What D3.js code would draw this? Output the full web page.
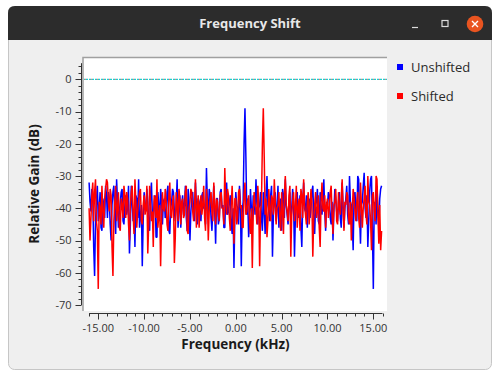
<!DOCTYPE html>
<html lang="en">
<head>
<meta charset="utf-8">
<title>Frequency Shift</title>
<script src="https://d3js.org/d3.v7.min.js"></script>
<style>
  html, body { margin: 0; padding: 0; background: #ffffff; }
  svg { display: block; font-family: "Open Sans", "DejaVu Sans", sans-serif; }
</style>
</head>
<body>
<script>
// FFT bins: -16 .. 15.9 kHz, 0.1 kHz apart
var freqStart = -16, freqStep = 0.1;

// Unshifted spectrum (dB), one row = 2 kHz
var unshifted = [
  -32, -38, -41, -34, -36, -52, -61, -44, -38, -33, -44, -40, -35, -46, -47, -37, -39, -43, -33, -36,
  -43, -35, -37, -45, -50, -39, -35, -33, -42, -48, -31, -38, -46, -41, -38, -35, -34, -44, -45, -39,
  -36, -42, -40, -33, -54, -45, -33, -38, -44, -41, -52, -36, -37, -43, -31, -46, -42, -39, -58, -44,
  -35, -40, -41, -34, -38, -45, -47, -36, -32, -42, -43, -38, -36, -49, -49, -35, -39, -44, -34, -37,
  -45, -38, -37, -43, -42, -35, -33, -47, -48, -40, -38, -34, -35, -41, -44, -39, -31, -46, -40, -36,
  -46, -39, -36, -42, -39, -33, -43, -47, -34, -38, -50, -41, -37, -35, -41, -44, -32, -39, -45, -37,
  -38, -42, -44, -36, -35, -40, -40, -45, -27.5, -38, -42, -34, -36, -43, -47, -39, -33, -41, -51, -37,
  -37, -45, -43, -35, -34, -40, -39, -46, -46, -36, -32, -42, -41, -38, -36, -44, -48, -40, -58.5, -42,
  -35, -39, -40, -45, -33, -38, -58, -41, -38, -20, -9, -24, -42, -37, -49, -44, -34, -40, -44, -36,
  -37, -42, -31, -38, -45, -40, -39, -35, -43, -47, -35, -41, -48, -36, -30, -39, -41, -44, -36, -33,
  -55, -42, -38, -35, -44, -40, -33, -46, -40, -37, -47, -34, -36, -43, -31, -39, -42, -45, -38, -35,
  -45, -40, -34, -38, -55, -43, -39, -35, -43, -41, -36, -46, -52, -38, -32, -40, -41, -36, -46, -39,
  -37, -43, -40, -35, -33, -42, -48, -39, -38, -34, -44, -45, -35, -40, -42, -37, -31, -41, -47, -38,
  -39, -35, -36, -43, -45, -38, -50, -41, -34, -37, -41, -44, -38, -35, -43, -46, -32, -39, -46, -40,
  -37, -33, -42, -45, -30, -38, -39, -44, -53, -36, -35, -41, -44, -30, -31, -42, -51, -39, -38, -33,
  -29, -40, -43, -36, -52, -44, -35, -31, -30, -47, -65, -38, -40, -45, -33, -41, -46, -37, -34, -33
];

// Shifted spectrum (dB), tone moved from 1 kHz to 3 kHz
var shifted = [
  -40, -50, -43, -36, -32, -44, -35, -31, -44, -47, -65, -38, -40, -45, -33, -41, -46, -37, -34, -31,
  -32, -38, -41, -34, -36, -52, -61, -44, -38, -33, -44, -40, -35, -46, -47, -37, -39, -43, -33, -36,
  -43, -35, -37, -45, -50, -39, -35, -33, -42, -48, -31, -38, -46, -41, -38, -35, -34, -44, -45, -39,
  -36, -42, -40, -33, -54, -45, -33, -38, -44, -41, -52, -36, -37, -43, -31, -46, -42, -39, -58, -44,
  -35, -40, -41, -34, -38, -45, -47, -36, -32, -42, -43, -38, -36, -57, -49, -35, -39, -44, -34, -37,
  -45, -38, -37, -43, -42, -35, -33, -47, -48, -40, -38, -34, -35, -41, -44, -39, -31, -46, -40, -36,
  -46, -39, -36, -42, -39, -33, -43, -47, -34, -38, -50, -41, -37, -35, -41, -44, -32, -39, -45, -37,
  -38, -42, -44, -36, -35, -40, -40, -45, -27.5, -38, -42, -34, -36, -43, -47, -39, -33, -41, -51, -37,
  -37, -45, -43, -35, -34, -40, -39, -46, -46, -36, -32, -42, -41, -38, -36, -44, -48, -40, -58.5, -42,
  -35, -39, -40, -45, -33, -38, -58, -41, -38, -20, -9, -24, -42, -37, -49, -44, -34, -40, -44, -36,
  -37, -42, -31, -38, -45, -40, -39, -35, -43, -47, -35, -41, -48, -36, -30, -39, -41, -44, -36, -33,
  -55, -42, -38, -35, -44, -40, -33, -46, -40, -37, -47, -34, -36, -43, -31, -39, -42, -45, -38, -35,
  -45, -40, -34, -38, -55, -43, -39, -35, -43, -41, -36, -46, -52, -38, -32, -40, -41, -36, -46, -39,
  -37, -43, -40, -35, -33, -42, -48, -39, -38, -34, -44, -45, -35, -40, -42, -37, -31, -41, -47, -38,
  -39, -35, -36, -43, -45, -38, -50, -41, -34, -37, -41, -44, -38, -35, -43, -46, -32, -39, -46, -40,
  -37, -33, -42, -45, -30, -38, -39, -44, -53, -36, -35, -41, -44, -30, -31, -42, -51, -39, -53, -47
];

var xTicks = [-15, -10, -5, 0, 5, 10, 15];
var yTicks = [0, -10, -20, -30, -40, -50, -60, -70];
var seriesNames = ["Unshifted", "Shifted"];
var seriesColors = ["#0000ff", "#ff0000"];

var W = 500, H = 379;
var svg = d3.select("body").append("svg").attr("width", W).attr("height", H);

// window frame
svg.append("rect").attr("x", 8.5).attr("y", 6.5).attr("width", 483).attr("height", 363)
  .attr("rx", 6).attr("fill", "#efefef").attr("stroke", "#c6c6c6");
svg.append("path")
  .attr("d", "M8,40 V13 Q8,6 15,6 H485 Q492,6 492,13 V40 Z")
  .attr("fill", "#2c2c2c");
svg.append("text").attr("x", 250).attr("y", 28).attr("text-anchor", "middle")
  .attr("font-size", 13).attr("font-weight", "bold").attr("fill", "#e8e8e8")
  .text("Frequency Shift");
svg.append("line").attr("x1", 412).attr("x2", 418).attr("y1", 27.5).attr("y2", 27.5)
  .attr("stroke", "#dcdcdc").attr("stroke-width", 1.2);
svg.append("rect").attr("x", 442).attr("y", 20.5).attr("width", 6).attr("height", 6)
  .attr("fill", "none").attr("stroke", "#dcdcdc").attr("stroke-width", 1.2);
svg.append("circle").attr("cx", 475).attr("cy", 24).attr("r", 8.3).attr("fill", "#e95420");
svg.append("path").attr("d", "M472,21 L478,27 M478,21 L472,27")
  .attr("stroke", "#ffffff").attr("stroke-width", 1.4);

// plot canvas
var cL = 83, cR = 387, cT = 57, cB = 311;
svg.append("rect").attr("x", cL).attr("y", cT).attr("width", cR - cL).attr("height", cB - cT)
  .attr("fill", "#ffffff");
svg.append("path").attr("d", "M" + cL + "," + cB + " V" + (cT + 0.5) + " H" + cR)
  .attr("fill", "none").attr("stroke", "#a0a0a0").attr("stroke-width", 1.5);

var x = d3.scaleLinear().domain([-16, 16]).range([89.1, 382.5]);
var y = d3.scaleLinear().domain([0, -70]).range([79.3, 305]);

svg.append("clipPath").attr("id", "clip")
  .append("rect").attr("x", cL + 1).attr("y", cT + 1).attr("width", cR - cL - 1).attr("height", cB - cT - 1);

var plot = svg.append("g").attr("clip-path", "url(#clip)");

// dotted reference line at 0 dB
plot.append("line").attr("x1", cL).attr("x2", cR).attr("y1", y(0)).attr("y2", y(0))
  .attr("stroke", "#22cccc").attr("stroke-width", 1.3).attr("stroke-dasharray", "2 1");
plot.append("line").attr("x1", cL + 2).attr("x2", cR).attr("y1", y(0)).attr("y2", y(0))
  .attr("stroke", "#d06060").attr("stroke-width", 1).attr("stroke-dasharray", "1 5");

var line = d3.line()
  .x(function(d, i) { return x(freqStart + i * freqStep); })
  .y(function(d) { return y(d); });

[unshifted, shifted].forEach(function(s, k) {
  plot.append("path").datum(s)
    .attr("d", line)
    .attr("fill", "none")
    .attr("stroke", seriesColors[k])
    .attr("stroke-width", 1.5)
    .attr("stroke-linejoin", "bevel");
});

// y axis
var yAxisX = 81.5;
var gy = svg.append("g").attr("font-size", 11).attr("fill", "#333");
gy.append("line").attr("x1", yAxisX).attr("x2", yAxisX).attr("y1", y(5)).attr("y2", y(-70))
  .attr("stroke", "#333");
d3.range(4, -71, -2).forEach(function(v) {
  var major = v % 10 === 0;
  gy.append("line").attr("x1", yAxisX - (major ? 6 : 3)).attr("x2", yAxisX)
    .attr("y1", Math.round(y(v)) + 0.5).attr("y2", Math.round(y(v)) + 0.5).attr("stroke", "#333");
});
gy.selectAll("text.yt").data(yTicks).enter().append("text")
  .attr("x", yAxisX - 10).attr("y", function(d) { return y(d); }).attr("dy", "0.35em")
  .attr("text-anchor", "end").text(function(d) { return d; });

// x axis
var xAxisY = 313.5;
var gx = svg.append("g").attr("font-size", 11).attr("fill", "#333");
gx.append("line").attr("x1", x(-16)).attr("x2", x(16)).attr("y1", xAxisY).attr("y2", xAxisY)
  .attr("stroke", "#333");
d3.range(-16, 17, 1).forEach(function(v) {
  var major = v % 5 === 0;
  gx.append("line").attr("x1", Math.round(x(v)) + 0.5).attr("x2", Math.round(x(v)) + 0.5)
    .attr("y1", xAxisY).attr("y2", xAxisY + (major ? 6 : 3)).attr("stroke", "#333");
});
gx.selectAll("text.xt").data(xTicks).enter().append("text")
  .attr("x", function(d) { return x(d); }).attr("y", 332)
  .attr("text-anchor", "middle").text(function(d) { return d.toFixed(2); });

// axis titles
svg.append("text").attr("x", 235.5).attr("y", 348.5).attr("text-anchor", "middle")
  .attr("font-size", 13.5).attr("font-weight", "bold").attr("fill", "#1a1a1a")
  .text("Frequency (kHz)");
svg.append("text").attr("transform", "translate(39,184) rotate(-90)").attr("text-anchor", "middle")
  .attr("font-size", 13.5).attr("font-weight", "bold").attr("fill", "#1a1a1a")
  .text("Relative Gain (dB)");

// legend
var legend = svg.append("g").selectAll("g").data(seriesNames).enter().append("g")
  .attr("transform", function(d, i) { return "translate(397," + (64 + i * 29) + ")"; });
legend.append("rect").attr("width", 6).attr("height", 6)
  .attr("fill", function(d, i) { return seriesColors[i]; });
legend.append("text").attr("x", 14).attr("y", 7.5).attr("font-size", 13).attr("fill", "#2a2a2a")
  .text(function(d) { return d; });
</script>
</body>
</html>
